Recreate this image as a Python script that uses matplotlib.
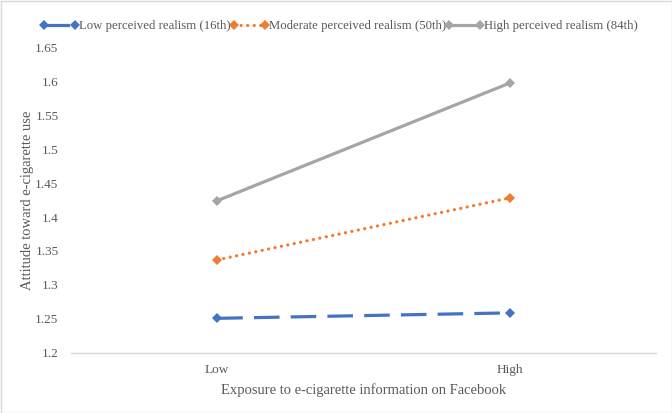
import matplotlib
matplotlib.use("Agg")
import matplotlib.pyplot as plt
from matplotlib.patches import Rectangle

categories = ["Low", "High"]
series_names = ["Low perceived realism (16th)", "Moderate perceived realism (50th)", "High perceived realism (84th)"]
low_realism = [1.251, 1.259]
moderate_realism = [1.337, 1.428]
high_realism = [1.424, 1.597]
y_ticks = [1.2, 1.25, 1.3, 1.35, 1.4, 1.45, 1.5, 1.55, 1.6, 1.65]
y_tick_labels = ["1.2", "1.25", "1.3", "1.35", "1.4", "1.45", "1.5", "1.55", "1.6", "1.65"]

plt.rcParams['font.family'] = ['Liberation Serif', 'DejaVu Serif']
txt = '#595959'

fig = plt.figure(figsize=(6.72, 4.13), dpi=100)
ax = fig.add_axes([71/672, 1-353/413, (656-71)/672, (353-47)/413])

x = [0.5, 1.5]
styles = [
    dict(color='#4472C4', linestyle=(0, (8, 3.5)), cap='butt', data=low_realism),
    dict(color='#ED7D31', linestyle=(0, (0.05, 2.0)), cap='round', data=moderate_realism),
    dict(color='#A5A5A5', linestyle='-', cap='butt', data=high_realism),
]
for name, st in zip(series_names, styles):
    ax.plot(x, st['data'], color=st['color'], linestyle=st['linestyle'], linewidth=2.3,
            marker='D', markersize=5, markeredgewidth=0, label=name,
            dash_capstyle=st['cap'])

ax.set_xlim(0, 2)
ax.set_ylim(1.2, 1.65)
ax.set_xticks(x)
ax.set_xticklabels(categories)
ax.set_yticks(y_ticks)
ax.set_yticklabels(y_tick_labels)
ax.tick_params(axis='both', length=0, labelsize=9.5, colors=txt)
ax.tick_params(axis='x', pad=8)
ax.tick_params(axis='y', pad=9)
for s in ['top', 'right', 'left']:
    ax.spines[s].set_visible(False)
ax.spines['bottom'].set_color('#D9D9D9')
ax.spines['bottom'].set_linewidth(1)

ax.set_xlabel("Exposure to e-cigarette information on Facebook", fontsize=10.5, color=txt, labelpad=5)
ax.set_ylabel("Attitude toward e-cigarette use", fontsize=10.5, color=txt, labelpad=1)

leg = fig.legend(loc='center', bbox_to_anchor=(339/672, 1-26/413), ncol=3, frameon=False,
                 fontsize=9.2, numpoints=2, handlelength=3.0, handletextpad=0.0,
                 columnspacing=0.0, labelcolor=txt, borderpad=0)

fig.patches.append(Rectangle((0.5/672, 0.5/413), 1-1/672, 1-1/413, transform=fig.transFigure,
                             fill=False, edgecolor='#D9D9D9', linewidth=1))

fig.savefig("out.png", dpi=100)
